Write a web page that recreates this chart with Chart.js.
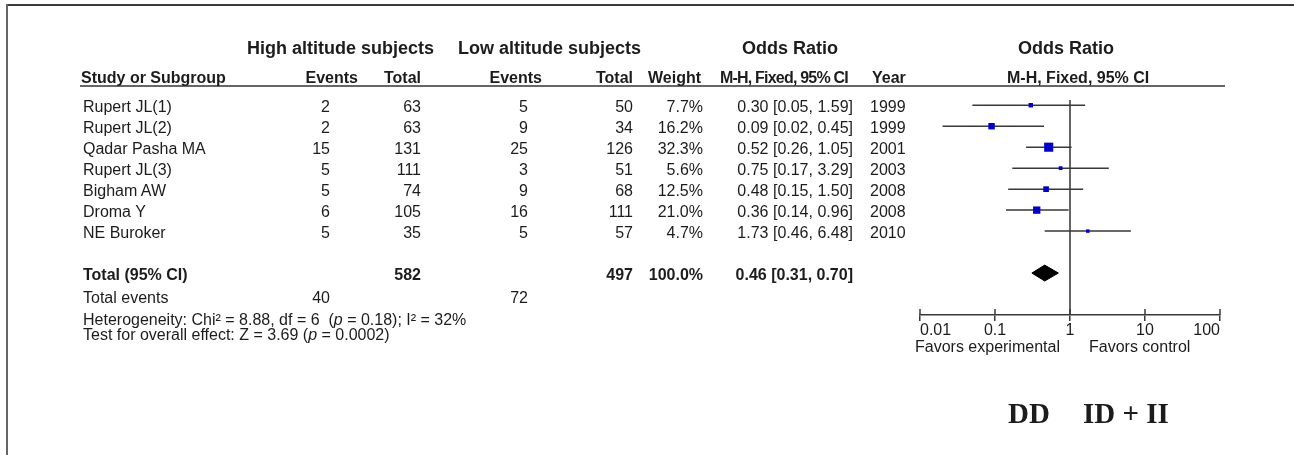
<!DOCTYPE html>
<html>
<head>
<meta charset="utf-8">
<script src="https://cdn.jsdelivr.net/npm/chart.js@4.4.1/dist/chart.umd.min.js"></script>
<style>
  html, body { margin: 0; padding: 0; background: #fff; }
  #wrap { position: relative; width: 1294px; height: 455px; overflow: hidden;
          font-family: "Liberation Sans", Arial, sans-serif; color: #1c1c1c; }
  #plot { position: absolute; left: 0; top: 0; }
  .t { position: absolute; white-space: pre; line-height: 1; }
  .rule { position: absolute; }
</style>
</head>
<body>
<div id="wrap">
  <canvas id="plot" width="1294" height="455"></canvas>
  <div class="rule" style="left:6px;top:4px;width:1288px;height:2px;background:#3a3a3a"></div>
  <div class="rule" style="left:6px;top:4px;width:2px;height:451px;background:#666"></div>
  <div class="rule" style="left:80px;top:85px;width:1145px;height:2px;background:#666"></div>
</div>
<script>
// ---- study data ----
const studies    = ['Rupert JL(1)', 'Rupert JL(2)', 'Qadar Pasha MA', 'Rupert JL(3)', 'Bigham AW', 'Droma Y', 'NE Buroker'];
const highEvents = [2, 2, 15, 5, 5, 6, 5];
const highTotal  = [63, 63, 131, 111, 74, 105, 35];
const lowEvents  = [5, 9, 25, 3, 9, 16, 5];
const lowTotal   = [50, 34, 126, 51, 68, 111, 57];
const weights    = [7.7, 16.2, 32.3, 5.6, 12.5, 21.0, 4.7];
const oddsRatio  = [0.30, 0.09, 0.52, 0.75, 0.48, 0.36, 1.73];
const ciLower    = [0.05, 0.02, 0.26, 0.17, 0.15, 0.14, 0.46];
const ciUpper    = [1.59, 0.45, 1.05, 3.29, 1.50, 0.96, 6.48];
const years      = [1999, 1999, 2001, 2003, 2008, 2008, 2010];

// ---- pooled result ----
const pooledOR = 0.46, pooledLower = 0.31, pooledUpper = 0.70;
const pooledWeight = 100.0;
const totalHigh = 582, totalLow = 497;
const eventsHigh = 40, eventsLow = 72;
const chi2 = '8.88', df = 6, pHet = '0.18', i2 = 32;
const zValue = '3.69', pOverall = '0.0002';

// ---- axis ----
const tickValues = [0.01, 0.1, 1, 10, 100];
const tickLabels = ['0.01', '0.1', '1', '10', '100'];

// ---- layout ----
const W = 1294;
const Y_MIN = -0.25, Y_MAX = 10;          // row units; axis sits at row 10
const totalRow = studies.length + 1;
const DIAMOND_HALF = 0.38;                // half-height of pooled diamond, row units
const INK = '#383838';
const SQUARE_BLUE = '#0000c8';
const FONT = '"Liberation Sans", Arial, sans-serif';

// CI whiskers as one broken line
const whiskers = [];
studies.forEach((s, i) => {
  whiskers.push({x: ciLower[i], y: i}, {x: ciUpper[i], y: i}, {x: null, y: null});
});

// tick marks that reach up from the axis line as well as down
const upTicks = {
  id: 'upTicks',
  afterDraw(chart) {
    const xs = chart.scales.x, ctx = chart.ctx, b = chart.chartArea.bottom;
    ctx.save();
    ctx.strokeStyle = INK;
    ctx.lineWidth = 1.5;
    tickValues.forEach(v => {
      const px = xs.getPixelForValue(v);
      ctx.beginPath();
      ctx.moveTo(px, b - 6);
      ctx.lineTo(px, b);
      ctx.stroke();
    });
    ctx.restore();
  }
};

const chart = new Chart(document.getElementById('plot'), {
  type: 'scatter',
  data: {
    datasets: [
      {
        label: 'Study OR',
        order: 0,
        data: studies.map((s, i) => ({x: oddsRatio[i], y: i})),
        pointStyle: 'rect',
        pointRadius: weights.map(w => 1.6 * Math.sqrt(w) / Math.SQRT2),
        pointBorderWidth: 0,
        backgroundColor: SQUARE_BLUE,
        borderColor: SQUARE_BLUE
      },
      {
        label: 'Pooled OR',
        type: 'line',
        order: 1,
        data: [
          {x: pooledLower, y: totalRow},
          {x: pooledOR, y: totalRow - DIAMOND_HALF},
          {x: pooledUpper, y: totalRow},
          {x: pooledOR, y: totalRow + DIAMOND_HALF},
          {x: pooledLower, y: totalRow}
        ],
        borderColor: '#000',
        borderWidth: 1,
        backgroundColor: '#000',
        fill: 'shape',
        pointRadius: 0,
        tension: 0
      },
      {
        label: '95% CI',
        type: 'line',
        order: 2,
        data: whiskers,
        borderColor: INK,
        borderWidth: 1.5,
        pointRadius: 0,
        spanGaps: false,
        fill: false
      },
      {
        label: 'No effect',
        type: 'line',
        order: 3,
        data: [{x: 1, y: Y_MIN}, {x: 1, y: Y_MAX}],
        borderColor: '#333',
        borderWidth: 1.5,
        pointRadius: 0,
        fill: false
      }
    ]
  },
  options: {
    responsive: false,
    animation: false,
    events: [],
    layout: { padding: { left: 920, right: W - 1220, top: 100, bottom: 100 } },
    plugins: { legend: { display: false }, tooltip: { enabled: false } },
    scales: {
      x: {
        type: 'logarithmic',
        position: 'bottom',
        min: 0.01,
        max: 100,
        afterBuildTicks(scale) { scale.ticks = tickValues.map(v => ({value: v})); },
        afterFit(scale) { scale.height = 40; },
        ticks: {
          autoSkip: false,
          maxRotation: 0,
          align: 'inner',
          padding: 0,
          color: '#1c1c1c',
          font: { family: FONT, size: 16 },
          callback: v => tickLabels[tickValues.indexOf(v)]
        },
        grid: { drawOnChartArea: false, drawTicks: true, tickLength: 6, color: INK, lineWidth: 1.5 },
        border: { display: true, color: INK, width: 1.5 }
      },
      y: {
        type: 'linear',
        display: false,
        reverse: true,
        min: Y_MIN,
        max: Y_MAX
      }
    }
  },
  plugins: [upTicks]
});

// ---- table text ----
const wrap = document.getElementById('wrap');
function put(html, x, yc, align, opts) {
  opts = opts || {};
  const size = opts.size || 16;
  const d = document.createElement('div');
  d.className = 't';
  d.innerHTML = html;
  d.style.fontSize = size + 'px';
  d.style.top = (yc - size / 2) + 'px';
  if (opts.bold) d.style.fontWeight = 'bold';
  if (opts.family) d.style.fontFamily = opts.family;
  if (opts.spacing) d.style.letterSpacing = opts.spacing + 'px';
  if (align === 'right') d.style.right = (W - x) + 'px';
  else d.style.left = x + 'px';
  wrap.appendChild(d);
}
const rowY = i => chart.scales.y.getPixelForValue(i) + 2;
const fmtCI = (o, l, h) => `${o.toFixed(2)} [${l.toFixed(2)}, ${h.toFixed(2)}]`;

// group headings
put('High altitude subjects', 247, 47.5, 'left', {size: 18, bold: true});
put('Low altitude subjects', 458, 47.5, 'left', {size: 18, bold: true});
put('Odds Ratio', 742, 47.5, 'left', {size: 18, bold: true});
put('Odds Ratio', 1018, 47.5, 'left', {size: 18, bold: true});

// column headings
const hy = 78;
put('Study or Subgroup', 81, hy, 'left', {bold: true});
put('Events', 358, hy, 'right', {bold: true});
put('Total', 421, hy, 'right', {bold: true});
put('Events', 542, hy, 'right', {bold: true});
put('Total', 633, hy, 'right', {bold: true});
put('Weight', 701, hy, 'right', {bold: true});
put('M-H, Fixed, 95% CI', 720, hy, 'left', {bold: true, spacing: -0.8});
put('Year', 872, hy, 'left', {bold: true});
put('M-H, Fixed, 95% CI', 1007, hy, 'left', {bold: true});

// study rows
studies.forEach((s, i) => {
  const y = rowY(i);
  put(s, 83, y, 'left');
  put(String(highEvents[i]), 330, y, 'right');
  put(String(highTotal[i]), 421, y, 'right');
  put(String(lowEvents[i]), 528, y, 'right');
  put(String(lowTotal[i]), 633, y, 'right');
  put(weights[i].toFixed(1) + '%', 703, y, 'right');
  put(fmtCI(oddsRatio[i], ciLower[i], ciUpper[i]), 853, y, 'right');
  put(String(years[i]), 870, y, 'left');
});

// pooled row
const ty = rowY(totalRow);
put('Total (95% CI)', 83, ty, 'left', {bold: true});
put(String(totalHigh), 421, ty, 'right', {bold: true});
put(String(totalLow), 633, ty, 'right', {bold: true});
put(pooledWeight.toFixed(1) + '%', 703, ty, 'right', {bold: true});
put(fmtCI(pooledOR, pooledLower, pooledUpper), 853, ty, 'right', {bold: true});

// footer
put('Total events', 83, 298, 'left');
put(String(eventsHigh), 330, 298, 'right');
put(String(eventsLow), 528, 298, 'right');
put(`Heterogeneity: Chi\u00b2 = ${chi2}, df = ${df}  (<i>p</i> = ${pHet}); I\u00b2 = ${i2}%`, 83, 319.5, 'left');
put(`Test for overall effect: Z = ${zValue} (<i>p</i> = ${pOverall})`, 83, 335, 'left');

// axis captions
put('Favors experimental', 915, 346.5, 'left');
put('Favors control', 1089, 346.5, 'left');

// genotype groups
const SERIF = '"Liberation Serif", "Times New Roman", serif';
put('DD', 1008, 413.5, 'left', {size: 29, bold: true, family: SERIF});
put('ID + II', 1083, 413.5, 'left', {size: 29, bold: true, family: SERIF});
</script>
</body>
</html>
